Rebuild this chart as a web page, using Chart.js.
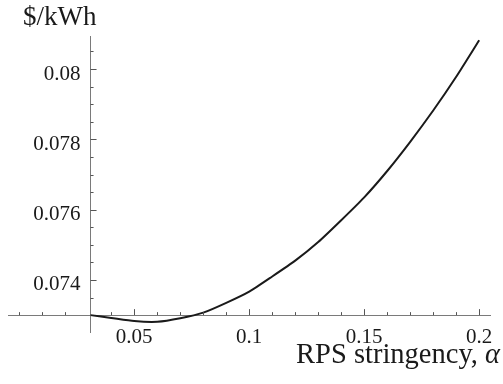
<!DOCTYPE html>
<html>
<head>
<meta charset="utf-8">
<script src="https://cdn.jsdelivr.net/npm/chart.js@4.4.0/dist/chart.umd.min.js"></script>
<style>
html, body { margin: 0; padding: 0; background: #fff; }
</style>
</head>
<body>
<canvas id="myChart" width="503" height="384"></canvas>
<script>
// Data
const alpha = [0.031, 0.04, 0.05, 0.06, 0.07, 0.08, 0.09, 0.10, 0.11, 0.12, 0.13, 0.14, 0.15, 0.16, 0.17, 0.18, 0.19, 0.20];
const cost  = [0.07300, 0.07292, 0.07283, 0.07281, 0.07291, 0.07307, 0.07335, 0.07367, 0.07410, 0.07455, 0.07508, 0.07570, 0.07635, 0.07710, 0.07793, 0.07882, 0.07978, 0.08082];

// Tick values
const xMajor = [0.05, 0.1, 0.15, 0.2];
const xMinor = [0, 0.01, 0.02, 0.04, 0.06, 0.07, 0.08, 0.09, 0.11, 0.12, 0.13, 0.14, 0.16, 0.17, 0.18, 0.19];
const yMajor = [0.074, 0.076, 0.078, 0.08];
const yLabels = ['0.074', '0.076', '0.078', '0.08'];
const yMinor = [0.0735, 0.0745, 0.075, 0.0755, 0.0765, 0.077, 0.0775, 0.0785, 0.079, 0.0795, 0.0805];
const xOrigin = 0.031;
const yOrigin = 0.073;

const serif = '"Liberation Serif", "Times New Roman", serif';
const axisGray = '#7a7a7a';

// Inward tick marks, y tick labels and axis titles
const axesPlugin = {
    id: 'axesPlugin',
    afterDraw(chart) {
        const ctx = chart.ctx;
        const xs = chart.scales.x, ys = chart.scales.y;
        const x0 = xs.getPixelForValue(xOrigin);
        const y0 = ys.getPixelForValue(yOrigin);
        ctx.save();
        ctx.strokeStyle = '#555';
        ctx.lineWidth = 1;
        ctx.beginPath();
        xMajor.forEach(v => { const p = Math.round(xs.getPixelForValue(v)) + 0.5; ctx.moveTo(p, y0); ctx.lineTo(p, y0 - 6); });
        xMinor.forEach(v => { const p = Math.round(xs.getPixelForValue(v)) + 0.5; ctx.moveTo(p, y0); ctx.lineTo(p, y0 - 3); });
        yMajor.forEach(v => { const p = Math.round(ys.getPixelForValue(v)) + 0.5; ctx.moveTo(x0, p); ctx.lineTo(x0 + 6, p); });
        yMinor.forEach(v => { const p = Math.round(ys.getPixelForValue(v)) + 0.5; ctx.moveTo(x0, p); ctx.lineTo(x0 + 3, p); });
        ctx.stroke();

        ctx.fillStyle = '#1a1a1a';
        ctx.font = '21px ' + serif;
        ctx.textAlign = 'right';
        ctx.textBaseline = 'middle';
        yMajor.forEach((v, i) => ctx.fillText(yLabels[i], x0 - 10, ys.getPixelForValue(v) + 5));

        ctx.textBaseline = 'alphabetic';
        ctx.font = '27px ' + serif;
        ctx.textAlign = 'left';
        ctx.fillText('$/kWh', 23, 25);

        ctx.font = 'italic 28.5px ' + serif;
        const aw = ctx.measureText('α').width;
        ctx.textAlign = 'right';
        ctx.fillText('α', 500, 363);
        ctx.font = '28.5px ' + serif;
        ctx.fillText('RPS stringency, ', 500 - aw, 363);
        ctx.restore();
    }
};

const ctx = document.getElementById('myChart').getContext('2d');
const myChart = new Chart(ctx, {
    type: 'line',
    data: {
        datasets: [{
            data: alpha.map((a, i) => ({ x: a, y: cost[i] })),
            borderColor: '#1a1a1a',
            borderWidth: 2,
            pointRadius: 0,
            tension: 0.2,
            fill: false
        }]
    },
    options: {
        responsive: false,
        animation: false,
        devicePixelRatio: 1,
        layout: { padding: { left: 8, right: 13, top: 36, bottom: 52 } },
        plugins: { legend: { display: false }, tooltip: { enabled: false } },
        scales: {
            x: {
                type: 'linear',
                min: -0.0049,
                max: 0.2047,
                position: { y: yOrigin },
                grid: { display: false, drawTicks: false },
                border: { display: true, color: axisGray, width: 1 },
                afterBuildTicks: axis => { axis.ticks = xMajor.map(v => ({ value: v })); },
                ticks: {
                    padding: 10,
                    maxRotation: 0,
                    autoSkip: false,
                    color: '#1a1a1a',
                    font: { family: serif, size: 21 },
                    callback: v => String(v)
                }
            },
            y: {
                type: 'linear',
                min: 0.07252,
                max: 0.08094,
                position: { x: xOrigin },
                grid: { display: false, drawTicks: false },
                border: { display: true, color: axisGray, width: 1 },
                afterBuildTicks: axis => { axis.ticks = yMajor.map(v => ({ value: v })); },
                ticks: { display: false }
            }
        }
    },
    plugins: [axesPlugin]
});
</script>
</body>
</html>
